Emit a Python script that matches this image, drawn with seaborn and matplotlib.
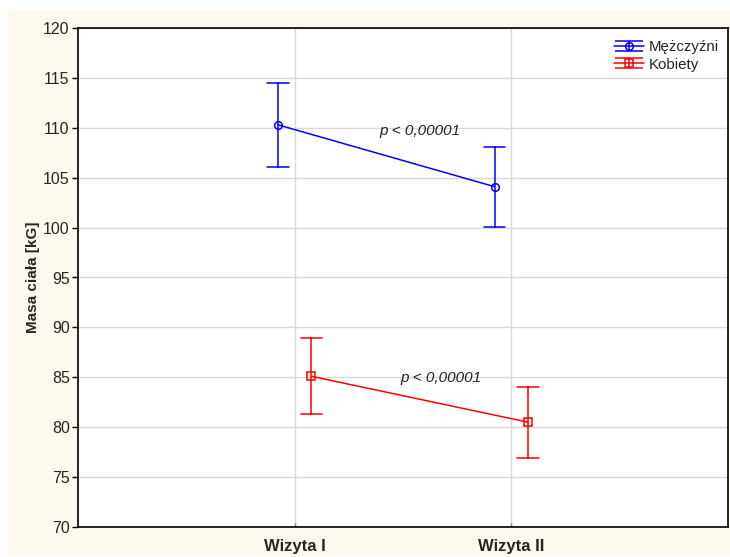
import numpy as np
import pandas as pd
import matplotlib
matplotlib.use("Agg")
import matplotlib.pyplot as plt
from matplotlib.lines import Line2D
from matplotlib.patches import Rectangle
from matplotlib.path import Path
from matplotlib.legend_handler import HandlerTuple
import seaborn as sns

# Body mass at two visits: group means with confidence half-widths
visits = ["Wizyta I", "Wizyta II"]
groups = ["Mężczyźni", "Kobiety"]
men_mean = [110.3, 104.1]
men_ci = [4.2, 4.0]
women_mean = [85.1, 80.5]
women_ci = [3.8, 3.55]
p_labels = ["p < 0,00001", "p < 0,00001"]

colors = {"Mężczyźni": "#0000ff", "Kobiety": "#ff0000"}
markers = ["o", "s"]

# Long table: lower bound, mean, upper bound for each group/visit
rows = []
for g, means, cis in [(groups[0], men_mean, men_ci), (groups[1], women_mean, women_ci)]:
    for v, m, c in zip(visits, means, cis):
        for val in (m - c, m, m + c):
            rows.append({"Wizyta": v, "Grupa": g, "Masa": val})
df = pd.DataFrame(rows)

sns.set_theme(style="white")
plt.rcParams["font.family"] = ["Liberation Sans", "DejaVu Sans"]

fig = plt.figure(figsize=(7.3, 5.57), dpi=100, facecolor="white")
fig.patches.append(Rectangle((8 / 730, 1 / 557), 1, 1 - 11 / 557,
                             transform=fig.transFigure, facecolor="#fdf9ee",
                             edgecolor="none", zorder=-10))
ax = fig.add_axes([78 / 730, 30 / 557, 650 / 730, 499 / 557])
ax.set_facecolor("white")

sns.pointplot(data=df, x="Wizyta", y="Masa", hue="Grupa", order=visits,
              hue_order=groups, palette=colors, markers=markers,
              estimator="median", errorbar=("pi", 100), capsize=0.1,
              dodge=0.155, linewidth=1.1, markersize=5.5, ax=ax, legend=False)

for ln in ax.lines:
    if ln.get_marker() in ("o", "s"):
        ln.set_markerfacecolor("none")
        ln.set_markeredgewidth(1.1)

ax.set_xlim(-1, 2)
ax.set_ylim(70, 120)
ax.set_yticks(np.arange(70, 121, 5))
ax.grid(True, color="#d9d9d9", linewidth=1.0)
ax.set_axisbelow(True)

for sp in ax.spines.values():
    sp.set_color("black")
    sp.set_linewidth(1.2)

ax.tick_params(axis="y", which="both", left=True, direction="out", length=4,
               width=1, color="black", labelsize=11.5, pad=2)
ax.tick_params(axis="x", bottom=True, direction="in", length=3, width=1,
               color="#888888", pad=9)
ax.set_xlabel("")
for lbl in ax.get_xticklabels():
    lbl.set_fontweight("bold")
    lbl.set_fontsize(12)
    lbl.set_fontstretch("condensed")
ax.set_ylabel("Masa ciała [kG]", fontsize=11, fontweight="bold", labelpad=2)

# p-value annotations between visits
ax.text(0.58, 109.7, p_labels[0], style="italic", fontsize=11,
        ha="center", va="center", color="#222222")
ax.text(0.673, 84.9, p_labels[1], style="italic", fontsize=11,
        ha="center", va="center", color="#222222")

# Legend symbol: small error bar with caps
cap_path = Path([(-1, 0.33), (1, 0.33), (-1, -0.33), (1, -0.33), (0, -0.33), (0, 0.33)],
                [Path.MOVETO, Path.LINETO, Path.MOVETO, Path.LINETO, Path.MOVETO, Path.LINETO])
handles = []
for g, mk in zip(groups, markers):
    c = colors[g]
    base = Line2D([], [], color=c, linewidth=1.1, marker=mk, markersize=5.5,
                  markerfacecolor="none", markeredgecolor=c, markeredgewidth=1.1)
    caps = Line2D([], [], color=c, linestyle="none", marker=cap_path,
                  markersize=20, markerfacecolor="none", markeredgecolor=c,
                  markeredgewidth=1.1)
    handles.append((base, caps))
ax.legend(handles, groups, handler_map={tuple: HandlerTuple(ndivide=1)},
          loc="upper left", bbox_to_anchor=(603 / 730, 1 - 30 / 557),
          bbox_transform=fig.transFigure, frameon=False, fontsize=10.8,
          handlelength=2.0, handletextpad=0.35, labelspacing=0.2,
          borderpad=0.2)

fig.savefig("out.png", dpi=100, facecolor=fig.get_facecolor())
